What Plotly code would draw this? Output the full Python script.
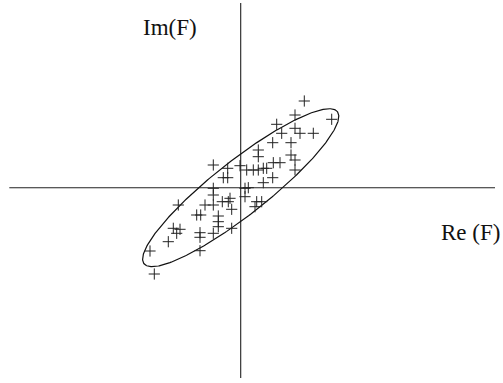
import numpy as np
import plotly.graph_objects as go

# Sample values of F in the complex plane (real part, imaginary part)
re_f = [6.36, 5.43, 9.10, 3.60, 5.43, 4.10, 5.93, 7.26, 3.20, 5.03,
        1.76, 1.76, 5.03, 5.43, 3.93, 3.26, -2.74, -1.30, -0.07, 0.60,
        1.26, 1.76, 2.26, 2.60, 5.43, -1.74, -1.30, 3.20, 2.26, 0.76,
        0.43, -2.74, -2.74, 0.43, -1.07, -1.84, -1.24, -3.57, -2.74, -6.24,
        -0.90, 1.60, 2.10, 1.43, -4.40, -4.00, -2.24, -2.24, -2.24, -0.90,
        -6.74, -6.07, -6.40, -4.07, -4.07, -2.74, -7.24, -9.07, -4.07, -8.64]
im_f = [8.67, 7.27, 6.84, 6.34, 5.94, 5.44, 5.44, 5.44, 4.50, 4.50,
        3.77, 3.10, 3.27, 2.77, 2.50, 2.50, 2.27, 1.94, 2.20, 1.77,
        1.77, 1.77, 1.94, 1.94, 1.77, 1.00, 1.00, 1.00, 0.50, 0.00,
        -0.06, -0.06, -0.73, -0.90, -1.06, -1.40, -1.40, -1.73, -1.73, -1.73,
        -2.16, -1.40, -1.40, -1.90, -2.73, -2.73, -2.83, -3.40, -3.90, -4.06,
        -4.06, -4.16, -4.56, -4.50, -4.96, -4.56, -5.40, -6.33, -6.30, -8.63]

# Confidence ellipse: semi-axes and tilt (degrees)
ell_a = 12.3
ell_b = 2.7
ell_angle = 38.2

# Extent of the drawn coordinate axes
axis_x_span = [-23.14, 25.43]
axis_y_span = [-19.03, 18.47]

t = np.linspace(0, 2 * np.pi, 361)
th = np.deg2rad(ell_angle)
ex = ell_a * np.cos(t) * np.cos(th) - ell_b * np.sin(t) * np.sin(th)
ey = ell_a * np.cos(t) * np.sin(th) + ell_b * np.sin(t) * np.cos(th)

fig = go.Figure()

# coordinate axes through the origin
fig.add_trace(go.Scatter(x=axis_x_span, y=[0, 0], mode="lines",
                         line=dict(color="#222", width=1.1), hoverinfo="skip"))
fig.add_trace(go.Scatter(x=[0, 0], y=axis_y_span, mode="lines",
                         line=dict(color="#222", width=1.1), hoverinfo="skip"))

fig.add_trace(go.Scatter(x=ex, y=ey, mode="lines",
                         line=dict(color="#111", width=1.2), hoverinfo="skip"))

fig.add_trace(go.Scatter(x=re_f, y=im_f, mode="markers",
                         marker=dict(symbol="cross-thin", size=8,
                                     line=dict(color="#222", width=1))))

fig.add_annotation(x=-7.12, y=16.07, text="Im(F)", showarrow=False,
                   font=dict(family="Liberation Serif", size=23, color="#111"))
fig.add_annotation(x=22.93, y=-4.43, text="Re (F)", showarrow=False,
                   font=dict(family="Liberation Serif", size=23, color="#111"))

fig.update_layout(
    width=503, height=383,
    margin=dict(l=0, r=0, t=0, b=0),
    paper_bgcolor="white", plot_bgcolor="white",
    showlegend=False,
    xaxis=dict(range=[-24.07, 26.23], visible=False, fixedrange=True),
    yaxis=dict(range=[-19.53, 18.77], visible=False, fixedrange=True),
)

fig.write_html("out.html")
